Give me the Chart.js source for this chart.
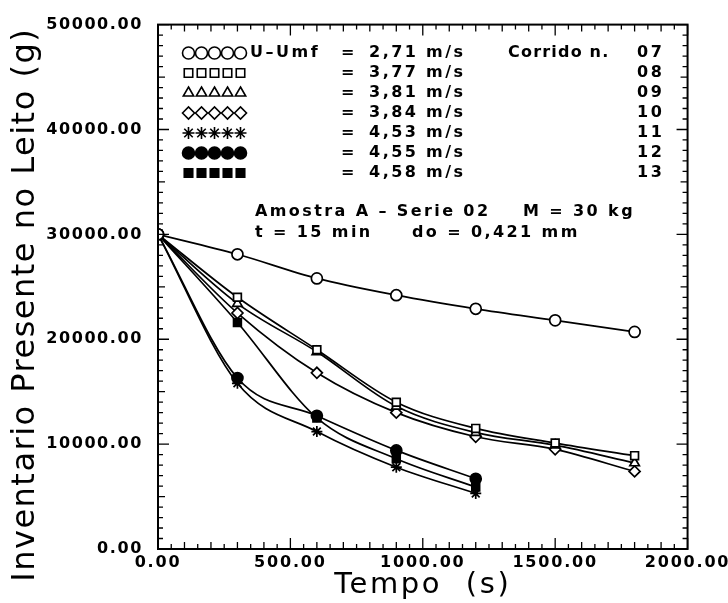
<!DOCTYPE html>
<html><head><meta charset="utf-8">
<script src="https://cdn.jsdelivr.net/npm/chart.js@4.4.1/dist/chart.umd.min.js"></script>
<style>html,body{margin:0;padding:0;background:#fff;}#wrap{width:728px;height:603px;}</style>
</head><body><div id="wrap"><canvas id="c" width="728" height="603"></canvas></div>
<script>
const timesLong = [0, 300, 600, 900, 1200, 1500, 1800];
const timesShort = [0, 300, 600, 900, 1200];
const run07 = [30000, 28100, 25800, 24200, 22900, 21800, 20700];
const run08 = [30000, 24000, 19000, 14000, 11500, 10100, 8900];
const run09 = [30000, 23400, 18800, 13600, 11100, 9900, 8200];
const run10 = [30000, 22500, 16800, 13000, 10700, 9500, 7400];
const run11 = [30000, 15800, 11200, 7800, 5300];
const run12 = [30000, 16300, 12700, 9400, 6700];
const run13 = [30000, 21600, 12500, 8600, 5900];
const velocities = ['2,71', '3,77', '3,81', '3,84', '4,53', '4,55', '4,58'];
const runNumbers = ['07', '08', '09', '10', '11', '12', '13'];
const xTicks = [0, 500, 1000, 1500, 2000];
const yTicks = [0, 10000, 20000, 30000, 40000, 50000];
const xMinorStep = 50, yMinorStep = 1000;

const styles = [
  {ps: 'circle', fill: '#fff'},
  {ps: 'rect', fill: '#fff'},
  {ps: 'triangle', fill: '#fff'},
  {ps: 'rectRot', fill: '#fff'},
  {ps: 'star', fill: '#fff'},
  {ps: 'circle', fill: '#000'},
  {ps: 'rect', fill: '#000'}
];
const series = [
  [timesLong, run07], [timesLong, run08], [timesLong, run09], [timesLong, run10],
  [timesShort, run11], [timesShort, run12], [timesShort, run13]
];
const datasets = series.map((s, i) => ({
  label: 'Corrida ' + runNumbers[i],
  data: s[0].map((t, k) => ({x: t, y: s[1][k]})),
  showLine: true,
  borderColor: '#000',
  borderWidth: 1.7,
  tension: 0.25,
  cubicInterpolationMode: 'monotone',
  pointStyle: styles[i].ps,
  pointRadius: 5.5,
  pointBorderWidth: 1.7,
  pointBackgroundColor: styles[i].fill,
  pointBorderColor: '#000'
}));

const FONT = '"DejaVu Sans", sans-serif';

function spaced(ctx, sp, fn) {
  const prev = ctx.letterSpacing;
  ctx.letterSpacing = sp;
  fn();
  ctx.letterSpacing = prev === undefined ? '0px' : prev;
}

const spacing = {
  id: 'spacing',
  afterLayout(chart) {
    const cfg = {x: {labels: '1.8px', title: '2.6px', shift: [0, 0]}, y: {labels: '1.6px', title: '1.5px', shift: [0, 18]}};
    for (const id of ['x', 'y']) {
      const s = chart.scales[id];
      if (s._spacedWrap) continue;
      s._spacedWrap = true;
      const c = cfg[id];
      const origLabels = s.drawLabels.bind(s);
      const origTitle = s.drawTitle.bind(s);
      s.drawLabels = function (area) { spaced(this.ctx, c.labels, () => origLabels(area)); };
      s.drawTitle = function () {
        const ctx = this.ctx;
        ctx.save();
        ctx.translate(c.shift[0], c.shift[1]);
        spaced(ctx, c.title, () => origTitle());
        ctx.restore();
      };
    }
  }
};

const decor = {
  id: 'decor',
  afterDraw(chart) {
    const ctx = chart.ctx, a = chart.chartArea;
    const xs = chart.scales.x, ys = chart.scales.y;
    ctx.save();
    ctx.strokeStyle = '#000';
    ctx.lineWidth = 2;
    ctx.strokeRect(a.left, a.top, a.right - a.left, a.bottom - a.top);
    ctx.lineWidth = 1.3;
    ctx.beginPath();
    for (let t = xs.min; t <= xs.max; t += xMinorStep) {
      const px = xs.getPixelForValue(t);
      const len = (t % 500 === 0) ? 11 : (t % 100 === 0 ? 7 : 5);
      ctx.moveTo(px, a.bottom); ctx.lineTo(px, a.bottom - len);
      ctx.moveTo(px, a.top); ctx.lineTo(px, a.top + len);
    }
    for (let v = ys.min; v <= ys.max; v += yMinorStep) {
      const py = ys.getPixelForValue(v);
      const len = (v % 10000 === 0) ? 11 : (v % 5000 === 0 ? 7 : 5);
      ctx.moveTo(a.left, py); ctx.lineTo(a.left + len, py);
      ctx.moveTo(a.right, py); ctx.lineTo(a.right - len, py);
    }
    ctx.stroke();

    // legend block
    ctx.textBaseline = 'middle';
    ctx.textAlign = 'left';
    ctx.font = 'bold 16px ' + FONT;
    for (let i = 0; i < 7; i++) {
      const y = 53 + i * 20;
      for (let k = 0; k < 5; k++) {
        ctx.fillStyle = styles[i].fill;
        ctx.strokeStyle = '#000';
        ctx.lineWidth = 1.6;
        Chart.helpers.drawPoint(ctx, {pointStyle: styles[i].ps, radius: 6, rotation: 0, borderWidth: 1.6}, 188.5 + k * 13, y);
      }
      ctx.fillStyle = '#000';
      if (i === 0) {
        spaced(ctx, '2.5px', () => ctx.fillText('U\u2013Umf', 250, y));
        spaced(ctx, '1.2px', () => ctx.fillText('Corrido n.', 508, y));
      }
      ctx.fillText('=', 341, y);
      ctx.fillText(velocities[i], 369, y);
      spaced(ctx, '2.5px', () => ctx.fillText('m/s', 426, y));
      ctx.fillText(runNumbers[i], 637, y);
    }
    spaced(ctx, '2.4px', () => {
      ctx.fillText('Amostra A \u2013 Serie 02', 255, 212);
      ctx.fillText('M = 30 kg', 523, 212);
      ctx.fillText('t = 15 min', 255, 233);
      ctx.fillText('do = 0,421 mm', 412, 233);
    });
    ctx.restore();
  }
};

new Chart(document.getElementById('c'), {
  type: 'scatter',
  data: {datasets},
  options: {
    responsive: false,
    animation: false,
    devicePixelRatio: 1,
    layout: {autoPadding: false, padding: {top: 23, right: 38, left: 0, bottom: 0}},
    plugins: {legend: {display: false}, tooltip: {enabled: false}},
    scales: {
      x: {
        type: 'linear', min: 0, max: 2000,
        afterFit(s) { s.height = 54; },
        afterBuildTicks(s) { s.ticks = xTicks.map(v => ({value: v})); },
        grid: {display: false, drawTicks: false},
        border: {display: false},
        ticks: {color: '#000', padding: 4, maxRotation: 0, autoSkip: false,
          font: {family: FONT, size: 16, weight: 'bold'},
          callback: v => Number(v).toFixed(2)},
        title: {display: true, text: 'Tempo  (s)', color: '#000',
          font: {family: FONT, size: 29}, padding: {top: 0, bottom: 0}}
      },
      y: {
        type: 'linear', min: 0, max: 50000,
        afterFit(s) { s.width = 158; },
        afterBuildTicks(s) { s.ticks = yTicks.map(v => ({value: v})); },
        grid: {display: false, drawTicks: false},
        border: {display: false},
        ticks: {color: '#000', padding: 15, autoSkip: false,
          font: {family: FONT, size: 16, weight: 'bold'},
          callback: v => Number(v).toFixed(2)},
        title: {display: true, text: 'Inventario Presente no Leito (g)', color: '#000',
          font: {family: FONT, size: 32}, padding: {top: 6, bottom: 0}}
      }
    }
  },
  plugins: [spacing, decor]
});
</script></body></html>
